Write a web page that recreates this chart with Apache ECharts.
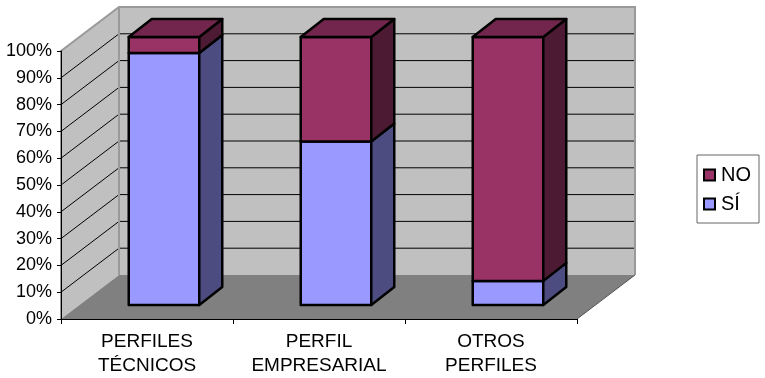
<!DOCTYPE html>
<html>
<head>
<meta charset="utf-8">
<script src="https://cdn.jsdelivr.net/npm/echarts@6/dist/echarts.min.js"></script>
<style>
html, body { margin: 0; padding: 0; background: #fff; }
#chart { width: 765px; height: 378px; }
</style>
</head>
<body>
<div id="chart"></div>
<script>
var categories = ['PERFILES\nTÉCNICOS', 'PERFIL\nEMPRESARIAL', 'OTROS\nPERFILES'];
var siValues = [94, 61, 9];
var noValues = [6, 39, 91];
var gridLevels = [10, 20, 30, 40, 50, 60, 70, 80, 90];

// fake 3d: pixel offsets for the depth of the box and of the bars
var DEPTH = [58, -44];
var BAR_OFF = [17, -14];
var BAR_DEPTH = [23, -18];
var BAR_W = 0.41;
var FONT = 'Liberation Sans, Arial, sans-serif';

function line(x1, y1, x2, y2, color, width) {
    return {
        type: 'line',
        shape: { x1: x1, y1: y1, x2: x2, y2: y2 },
        style: { stroke: color, lineWidth: width }
    };
}

function poly(points, fill, stroke, width) {
    return {
        type: 'polygon',
        shape: { points: points },
        style: { fill: fill, stroke: stroke, lineWidth: width, lineJoin: 'round' }
    };
}

function renderWalls(params, api) {
    var band = api.size([1, 0])[0],
        x0 = api.coord([0, 0])[0] - band / 2,
        x1 = api.coord([categories.length - 1, 0])[0] + band / 2,
        y0 = api.coord([0, 0])[1],
        y100 = api.coord([0, 100])[1],
        dx = DEPTH[0], dy = DEPTH[1];

    var children = [];
    // left wall, back wall, floor
    children.push(poly([[x0, y0], [x0, y100], [x0 + dx, y100 + dy], [x0 + dx, y0 + dy]], '#c0c0c0', null, 0));
    children.push(poly([[x0 + dx, y100 + dy], [x1 + dx, y100 + dy], [x1 + dx, y0 + dy], [x0 + dx, y0 + dy]], '#c0c0c0', null, 0));
    children.push(poly([[x0, y0], [x0 + dx, y0 + dy], [x1 + dx, y0 + dy], [x1, y0]], '#808080', null, 0));

    gridLevels.forEach(function(v){
        var y = api.coord([0, v])[1];
        children.push(line(x0 + dx, y + dy, x1 + dx, y + dy, '#000', 1));
        children.push(line(x0, y, x0 + dx, y + dy, '#000', 1));
    });

    children.push({
        type: 'polyline',
        shape: { points: [[x0, y0], [x0, y100], [x0 + dx, y100 + dy], [x1 + dx, y100 + dy], [x1 + dx, y0 + dy]] },
        style: { stroke: '#9a9a9a', lineWidth: 2, fill: null }
    });
    children.push(line(x0 + dx, y100 + dy, x0 + dx, y0 + dy, '#9a9a9a', 2));
    children.push(line(x1, y0, x1 + dx, y0 + dy, '#555', 1));
    return { type: 'group', children: children };
}

function barRenderer(front, side, top, withTop) {
    return function(params, api){
        var i = api.value(0),
            base = api.coord([i, api.value(1)]),
            peak = api.coord([i, api.value(2)]),
            w = api.size([1, 0])[0] * BAR_W,
            left = base[0] + BAR_OFF[0] - w / 2,
            right = left + w,
            yb = base[1] + BAR_OFF[1],
            yt = peak[1] + BAR_OFF[1],
            dx = BAR_DEPTH[0], dy = BAR_DEPTH[1];

        var children = [
            poly([[left, yb], [left, yt], [right, yt], [right, yb]], front, '#000', 2.5),
            poly([[right, yb], [right, yt], [right + dx, yt + dy], [right + dx, yb + dy]], side, '#000', 2.5)
        ];
        if(withTop){
            children.push(poly([[left, yt], [left + dx, yt + dy], [right + dx, yt + dy], [right, yt]], top, '#000', 2.5));
        }
        return { type: 'group', children: children };
    };
}

var siData = categories.map(function(c, i){ return [i, 0, siValues[i]]; });
var noData = categories.map(function(c, i){ return [i, siValues[i], siValues[i] + noValues[i]]; });

var chart = echarts.init(document.getElementById('chart'));
chart.setOption({
    animation: false,
    grid: { left: 61, top: 51, width: 516, height: 268 },
    legend: {
        data: ['NO', 'SÍ'],
        orient: 'vertical',
        left: 697,
        top: 155,
        padding: [10, 8, 9, 6],
        itemWidth: 11,
        itemHeight: 11,
        itemGap: 9,
        icon: 'rect',
        borderColor: '#666',
        borderWidth: 1,
        backgroundColor: '#fff',
        itemStyle: { borderColor: '#000', borderWidth: 2 },
        textStyle: { fontSize: 20, color: '#000', fontFamily: FONT, padding: [0, 0, 0, 1] }
    },
    xAxis: {
        type: 'category',
        data: categories,
        z: 5,
        axisLine: { lineStyle: { color: '#000', width: 1 } },
        axisTick: { show: true, length: 5, lineStyle: { color: '#000' } },
        axisLabel: {
            color: '#000', fontSize: 19, fontFamily: FONT, lineHeight: 24, margin: 11,
            interval: 0, hideOverlap: false
        },
        splitLine: { show: false }
    },
    yAxis: {
        type: 'value',
        min: 0,
        max: 100,
        interval: 10,
        z: 5,
        axisLine: { show: true, lineStyle: { color: '#000', width: 1 } },
        axisTick: { show: true, length: 4, lineStyle: { color: '#000' } },
        axisLabel: { color: '#000', fontSize: 18, fontFamily: FONT, margin: 9, formatter: '{value}%' },
        splitLine: { show: false }
    },
    series: [
        {
            type: 'custom',
            name: 'walls',
            renderItem: renderWalls,
            data: [[0, 0]],
            silent: true,
            z: 1
        },
        {
            type: 'custom',
            name: 'SÍ',
            renderItem: barRenderer('#9999ff', '#4c4c80', '#7373bf', false),
            data: siData,
            itemStyle: { color: '#9999ff' },
            z: 2
        },
        {
            type: 'custom',
            name: 'NO',
            renderItem: barRenderer('#993366', '#4d1a33', '#73264d', true),
            data: noData,
            itemStyle: { color: '#993366' },
            z: 3
        }
    ]
});
</script>
</body>
</html>
